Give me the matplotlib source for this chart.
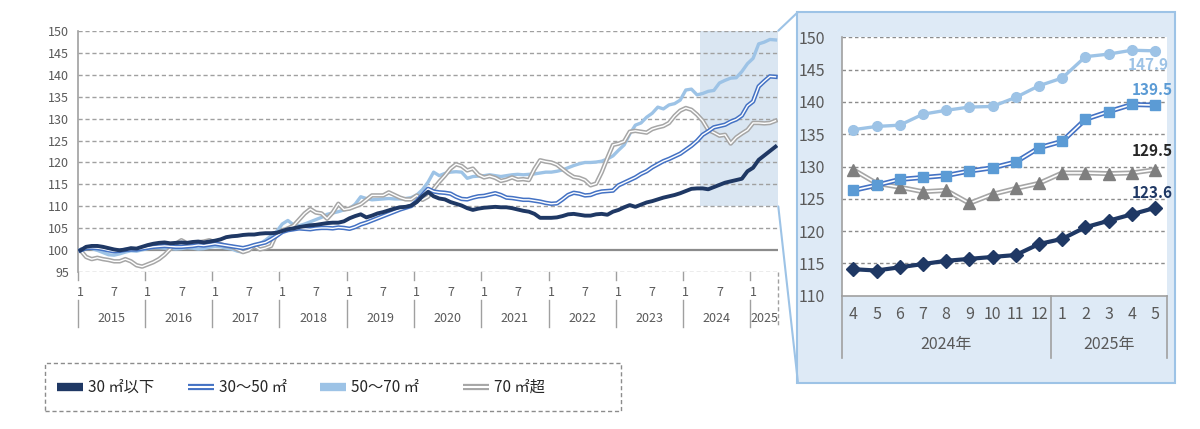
import matplotlib
matplotlib.use("Agg")
import matplotlib.pyplot as plt
from matplotlib.lines import Line2D
from matplotlib.patches import Rectangle, ConnectionPatch

plt.rcParams['font.family'] = ['Noto Sans CJK JP', 'DejaVu Sans']

# ---- data (monthly index, 2015-01 .. 2025-05) ----
years = ['2015', '2016', '2017', '2018', '2019', '2020', '2021', '2022', '2023', '2024', '2025']

small = [100.0, 100.8, 101.0, 101.0, 100.8, 100.5, 100.2, 100.0, 100.2, 100.5, 100.4, 100.8,
         101.2, 101.5, 101.7, 101.8, 101.6, 101.7, 101.8, 101.7, 101.9, 102.0, 101.8, 102.0,
         102.2, 102.5, 103.0, 103.2, 103.3, 103.5, 103.6, 103.6, 103.8, 103.9, 103.9, 104.0,
         104.4, 104.8, 105.0, 105.3, 105.5, 105.7, 105.8, 106.0, 106.2, 106.3, 106.3, 106.6,
         107.3, 107.8, 108.2, 107.5, 107.9, 108.4, 108.7, 109.1, 109.5, 109.8, 109.9, 110.2,
         111.0, 112.3, 113.3, 112.3, 111.8, 111.6, 111.0, 110.6, 110.2, 109.6, 109.2, 109.5,
         109.7, 109.8, 109.9, 109.8, 109.8, 109.6, 109.3, 109.0, 108.8, 108.3, 107.4, 107.4,
         107.4, 107.5, 107.8, 108.2, 108.3, 108.1, 107.9, 107.9, 108.2, 108.3, 108.1, 108.8,
         109.2, 109.8, 110.3, 109.9, 110.4, 110.9, 111.2, 111.6, 112.0, 112.3, 112.6, 113.0,
         113.5, 114.0, 114.1, 114.1, 113.9, 114.4, 114.9, 115.4, 115.7, 116.0, 116.3, 118.0,
         118.8, 120.6, 121.6, 122.6, 123.6]

mid = [100.0, 100.5, 100.6, 100.5, 100.3, 100.0, 99.8, 99.9, 100.1, 100.2, 100.2, 100.4,
       100.6, 100.8, 100.9, 101.0, 100.9, 100.8, 100.8, 100.9, 101.0, 101.2, 101.1, 101.3,
       101.5, 101.3, 101.1, 100.9, 100.7, 100.5, 100.8, 101.2, 101.5, 101.8, 102.5, 103.3,
       104.2, 104.6, 104.8, 105.0, 104.9, 104.8, 105.0, 105.1, 105.1, 105.0, 105.2, 105.1,
       104.9, 105.3, 105.9, 106.3, 106.8, 107.3, 107.8, 108.3, 108.8, 109.3, 109.7, 110.1,
       111.2, 112.6, 114.0, 113.4, 113.2, 113.1, 112.9, 112.2, 111.7, 111.6, 112.0, 112.3,
       112.4, 112.7, 113.0, 112.6, 112.0, 111.9, 111.7, 111.5, 111.5, 111.3, 111.1, 110.8,
       110.6, 110.7, 111.6, 112.6, 113.1, 112.9, 112.5, 112.6, 113.1, 113.4, 113.5, 113.6,
       114.8, 115.4, 116.0, 116.6, 117.4, 118.0, 118.9, 119.6, 120.3, 120.8, 121.4, 122.0,
       122.9, 123.8, 124.9, 126.3, 127.1, 128.0, 128.3, 128.6, 129.3, 129.8, 130.7, 132.9,
       133.9, 137.3, 138.5, 139.6, 139.5]

large = [100.0, 100.6, 100.4, 100.0, 99.5, 99.0, 98.9, 99.2, 99.6, 99.9, 99.8, 100.1,
         100.4, 100.6, 100.6, 100.5, 100.4, 100.3, 100.4, 100.6, 100.5, 100.3, 100.4, 100.7,
         100.9, 100.8, 100.5, 100.3, 99.8, 99.6, 100.2, 101.0, 101.5, 102.3, 103.3, 104.3,
         106.0, 106.8, 105.8, 105.6, 106.0, 106.5, 107.0, 107.5, 108.2, 108.5, 108.8, 109.2,
         109.5, 110.5, 112.2, 111.8, 111.5, 111.6, 111.7, 111.8, 111.7, 111.7, 111.8, 112.0,
         112.6, 113.8, 115.5, 117.8, 117.0, 117.5, 117.8, 117.9, 117.8, 116.4, 116.8, 116.9,
         117.0, 117.2, 117.0, 116.8, 117.0, 117.2, 117.3, 117.2, 117.3, 117.4, 117.6, 117.8,
         117.8, 118.0, 118.3, 118.8, 119.3, 119.7, 120.0, 120.0, 120.1, 120.3, 120.8, 121.5,
         122.8, 124.0, 126.5, 128.5, 129.0, 130.3, 131.2, 132.6, 132.2, 133.1, 133.4, 134.2,
         136.5, 136.7, 135.4, 135.7, 136.2, 136.4, 138.1, 138.7, 139.2, 139.3, 140.7, 142.5,
         143.7, 147.0, 147.4, 148.0, 147.9]

xlarge = [100.0, 98.5, 98.0, 98.3, 98.0, 97.8, 97.5, 97.5, 98.0, 97.5, 96.6, 96.3,
          96.8, 97.3, 98.0, 99.0, 100.3, 101.5, 102.3, 101.6, 101.4, 101.8, 102.0, 102.3,
          101.8, 101.4, 101.0, 100.8, 100.2, 99.6, 100.0, 101.0, 100.2, 100.5, 101.0, 103.8,
          104.5, 105.0, 105.6, 107.0, 108.4, 109.4, 108.6, 108.4, 107.2, 108.6, 110.6, 109.3,
          109.5, 110.0, 110.5, 111.5, 112.5, 112.5, 112.5, 113.2, 112.6, 112.0, 111.6, 111.6,
          112.5, 111.5, 112.2, 114.0, 115.6, 117.0, 118.6, 119.6, 119.2, 118.2, 118.6, 117.2,
          116.6, 116.9, 116.5, 115.8, 116.1, 116.6, 116.1, 116.2, 116.0, 118.5, 120.5, 120.2,
          120.0, 119.5, 118.5, 117.5, 116.7, 116.5, 116.0, 114.8, 115.2, 117.8, 121.0, 124.0,
          124.3, 124.8, 127.0, 127.2, 127.0, 126.8, 127.6, 128.0, 128.3, 129.0, 130.6, 131.8,
          132.4, 132.0, 130.9, 129.5, 127.4, 126.8, 126.1, 126.3, 124.3, 125.7, 126.6, 127.4,
          129.0, 129.0, 128.9, 129.0, 129.5]

# zoom window: 2024-04 .. 2025-05
zoom_start = 111
zoom_months = ['4', '5', '6', '7', '8', '9', '10', '11', '12', '1', '2', '3', '4', '5']
zoom_years = ['2024年', '2025年']
labels = ['30 ㎡以下', '30～50 ㎡', '50～70 ㎡', '70 ㎡超']

NAVY = '#1f3864'
BLUE = '#4472c4'
BLUE_M = '#5b9bd5'
LIGHT = '#9dc3e6'
GRAY = '#a6a6a6'
GRAY_M = '#7f7f7f'
TXT = '#595959'
SHADE = '#dae6f2'

fig = plt.figure(figsize=(12, 4.29), dpi=100)
W, H = 1200, 429


def fx(px):
    return px / W


def fy(py):
    return 1 - py / H


# ---------------- main chart ----------------
ax = fig.add_axes([fx(77.7), fy(272.3), fx(778.3 - 77.7), (272.3 - 30.7) / H])
n = len(small)
x = list(range(n))
ax.set_xlim(-0.5, n - 0.5)
ax.set_ylim(95, 150)

ax.add_patch(Rectangle((zoom_start - 0.5, 110), n - zoom_start, 40, color=SHADE, zorder=0, lw=0))
for v in range(95, 151, 5):
    if v == 100:
        continue
    ax.axhline(v, color='#a0a0a0', lw=1, ls=(0, (3, 2)), zorder=1)
ax.axhline(100, color='#8c8c8c', lw=1.6, zorder=1)

ax.plot(x, large, color=LIGHT, lw=2.4, zorder=3)
ax.plot(x, xlarge, color=GRAY, lw=3.2, zorder=3)
ax.plot(x, xlarge, color='white', lw=1.0, zorder=3)
ax.plot(x, mid, color=BLUE, lw=3.2, zorder=4)
ax.plot(x, mid, color='white', lw=1.0, zorder=4)
ax.plot(x, small, color=NAVY, lw=2.8, zorder=5)

ax.set_yticks(range(95, 151, 5))
ax.tick_params(axis='y', length=0, labelsize=9, labelcolor=TXT, pad=6)
ax.set_xticks([])
for s in ['top', 'right', 'bottom']:
    ax.spines[s].set_visible(False)
ax.spines['left'].set_color('#a0a0a0')
ax.spines['left'].set_linewidth(1.2)

tr = ax.get_xaxis_transform()
hgt = 272.3 - 30.7
for i, yr in enumerate(years):
    b = i * 12 - 0.5
    ax.plot([b, b], [0, -8 / hgt], color='#a0a0a0', lw=1, transform=tr, clip_on=False)
    ax.plot([b, b], [-28 / hgt, -55 / hgt], color='#a0a0a0', lw=1, transform=tr, clip_on=False)
    end = min((i + 1) * 12, n) - 0.5
    ax.text((b + end) / 2, -46 / hgt, yr, transform=tr, ha='center', va='center',
            fontsize=9, color=TXT)
    for m, lab in [(0, '1'), (6, '7')]:
        if i * 12 + m < n:
            ax.text(i * 12 + m, -20 / hgt, lab, transform=tr, ha='center', va='center',
                    fontsize=9, color=TXT)
ax.plot([n - 0.5, n - 0.5], [0, -55 / hgt], color='#a0a0a0', lw=1, ls=(0, (3, 2)),
        transform=tr, clip_on=False)

# ---------------- zoom box ----------------
fig.add_artist(Rectangle((fx(797), fy(383)), fx(1175 - 797), (383 - 12) / H,
                         transform=fig.transFigure, facecolor='#deeaf6',
                         edgecolor='#9dc3e6', lw=1.5, zorder=1))
for yv, py in [(150, 12), (110, 383)]:
    con = ConnectionPatch(xyA=(n - 0.5, yv), coordsA=ax.transData,
                          xyB=(fx(798), fy(py)), coordsB=fig.transFigure,
                          color='#9dc3e6', lw=1.5, zorder=1.5)
    fig.add_artist(con)

ax2 = fig.add_axes([fx(841.7), fy(295.7), fx(1166.7 - 841.7), (295.7 - 37.3) / H], zorder=2)
ax2.set_facecolor('white')
zx = list(range(len(zoom_months)))
zs = small[zoom_start:]
zm = mid[zoom_start:]
zl = large[zoom_start:]
zg = xlarge[zoom_start:]
ax2.set_xlim(-0.5, len(zx) - 0.5)
ax2.set_ylim(110, 150)
for v in range(115, 151, 5):
    ax2.axhline(v, color='#8c8c8c', lw=1, ls=(0, (2.5, 2)), zorder=1)

ax2.plot(zx, zl, color=LIGHT, lw=2.4, marker='o', ms=7, zorder=3)
ax2.plot(zx, zg, color=GRAY, lw=3.6, zorder=3)
ax2.plot(zx, zg, color='white', lw=1.2, zorder=3)
ax2.plot(zx, zg, ls='none', marker='^', ms=8, color=GRAY_M, zorder=4)
ax2.plot(zx, zm, color=BLUE, lw=3.6, zorder=3)
ax2.plot(zx, zm, color='white', lw=1.2, zorder=3)
ax2.plot(zx, zm, ls='none', marker='s', ms=7, color=BLUE_M, zorder=4)
ax2.plot(zx, zs, color=NAVY, lw=3, marker='D', ms=7, zorder=5)

last = len(zx) - 1
ax2.annotate(f'{zl[-1]:.1f}', (last, zl[-1]), xytext=(-7, -14), textcoords='offset pixels',
             ha='center', va='center', fontsize=11, color=LIGHT, fontweight='bold')
ax2.annotate(f'{zm[-1]:.1f}', (last, zm[-1]), xytext=(-3, 15), textcoords='offset pixels',
             ha='center', va='center', fontsize=11, color=BLUE_M, fontweight='bold')
ax2.annotate(f'{zg[-1]:.1f}', (last, zg[-1]), xytext=(-3, 19), textcoords='offset pixels',
             ha='center', va='center', fontsize=11, color='#262626', fontweight='bold')
ax2.annotate(f'{zs[-1]:.1f}', (last, zs[-1]), xytext=(-3, 15), textcoords='offset pixels',
             ha='center', va='center', fontsize=11, color=NAVY, fontweight='bold')

ax2.set_yticks(range(110, 151, 5))
ax2.tick_params(axis='y', length=0, labelsize=11.5, labelcolor=TXT, pad=12)
ax2.set_xticks([])
for s in ['top', 'right']:
    ax2.spines[s].set_visible(False)
for s in ['left', 'bottom']:
    ax2.spines[s].set_color('#a0a0a0')
    ax2.spines[s].set_linewidth(1.2)

tr2 = ax2.get_xaxis_transform()
h2 = 295.7 - 37.3
for i, lab in enumerate(zoom_months):
    ax2.text(i, -19 / h2, lab, transform=tr2, ha='center', va='center', fontsize=11.5, color=TXT)
split = zoom_months.index('1') - 0.5
for b in [-0.5, split, len(zx) - 0.5]:
    ax2.plot([b, b], [0, -62 / h2], color='#a0a0a0', lw=1.2, transform=tr2, clip_on=False)
ax2.text((-0.5 + split) / 2, -49 / h2, zoom_years[0], transform=tr2, ha='center', va='center',
         fontsize=11.5, color=TXT)
ax2.text((split + len(zx) - 0.5) / 2, -49 / h2, zoom_years[1], transform=tr2, ha='center',
         va='center', fontsize=11.5, color=TXT)

# ---------------- legend ----------------
fig.add_artist(Rectangle((fx(45), fy(411)), fx(621 - 45), (411 - 363) / H,
                         transform=fig.transFigure, facecolor='none', edgecolor='#8c8c8c',
                         lw=1, ls=(0, (3, 2))))
ly = fy(387)
entries = [(57, NAVY, 6, False), (188, BLUE, 4.5, True), (320, LIGHT, 6, False), (463, GRAY, 4.5, True)]
for (sx, col, lw, dbl), lab in zip(entries, labels):
    fig.add_artist(Line2D([fx(sx), fx(sx + 26)], [ly, ly], transform=fig.transFigure,
                          color=col, lw=lw, solid_capstyle='butt'))
    if dbl:
        fig.add_artist(Line2D([fx(sx), fx(sx + 26)], [ly, ly], transform=fig.transFigure,
                              color='white', lw=1.5, solid_capstyle='butt'))
    fig.text(fx(sx + 31), ly, lab, ha='left', va='center', fontsize=11, color='#262626')

fig.savefig('out.png', dpi=100)
